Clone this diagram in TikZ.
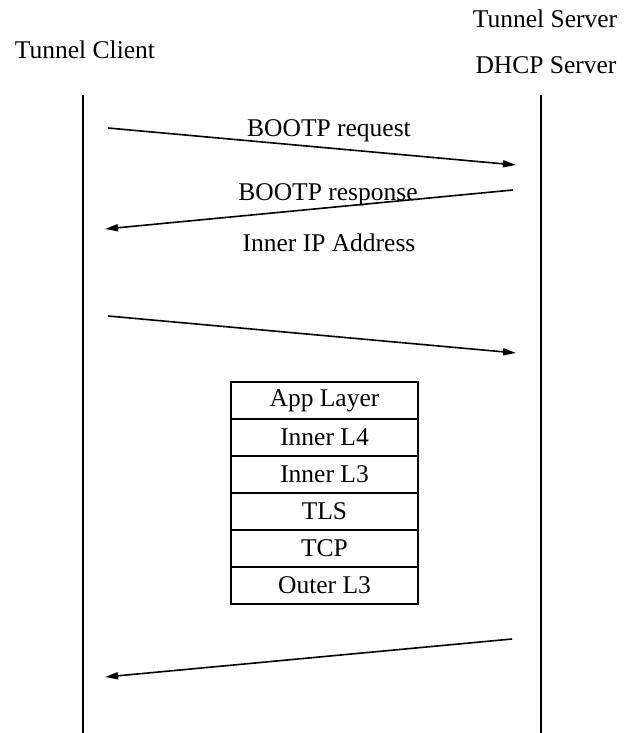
\documentclass[tikz,border=0pt]{standalone}
\usepackage{fontspec}
\setmainfont{Liberation Serif}
\usetikzlibrary{arrows.meta}
\begin{document}
\begin{tikzpicture}[x=1pt,y=-1pt,
  lbl/.style={font=\fontsize{25.5}{30}\selectfont, inner sep=0pt, anchor=base},
  life/.style={line width=1.6pt},
  msg/.style={line width=1.6pt, -{Triangle[length=13pt,width=7pt]}},
  layer/.style={draw, line width=1.4pt, minimum width=187pt, minimum height=37pt, inner sep=0pt, outer sep=0pt, font=\fontsize{25.5}{30}\selectfont, anchor=north west}]
\useasboundingbox (0,0) rectangle (632,733);
% titles
\node[lbl] (tc) at (85,59) {Tunnel Client};
\node[lbl] (ts) at (545,28) {Tunnel Server};
\node[lbl] (ds) at (546,74) {DHCP Server};
% lifelines
\coordinate (l1) at (83,95);
\coordinate (l2) at (83,733);
\coordinate (r1) at (541,95);
\coordinate (r2) at (541,733);
\draw[life] (l1) -- (l2);
\draw[life] (r1) -- (r2);
% messages
\coordinate (a1s) at (108,128);
\coordinate (a1e) at (516,165);
\coordinate (a2s) at (513,190);
\coordinate (a2e) at (105,229);
\coordinate (a3s) at (108,316);
\coordinate (a3e) at (516,353);
\coordinate (a4s) at (512,639);
\coordinate (a4e) at (105,677);
\draw[msg] (a1s) -- (a1e);
\draw[msg] (a2s) -- (a2e);
\draw[msg] (a3s) -- (a3e);
\draw[msg] (a4s) -- (a4e);
\node[lbl] (m1) at (329,136) {BOOTP request};
\node[lbl] (m2) at (328,200) {BOOTP response};
\node[lbl] (m3) at (329,251) {Inner IP Address};
% layer stack
\node[layer] (s1) at (231,382) {App Layer};
\node[layer] (s2) at (s1.south west) {Inner L4};
\node[layer] (s3) at (s2.south west) {Inner L3};
\node[layer] (s4) at (s3.south west) {TLS};
\node[layer] (s5) at (s4.south west) {TCP};
\node[layer] (s6) at (s5.south west) {Outer L3};
\end{tikzpicture}
\end{document}
